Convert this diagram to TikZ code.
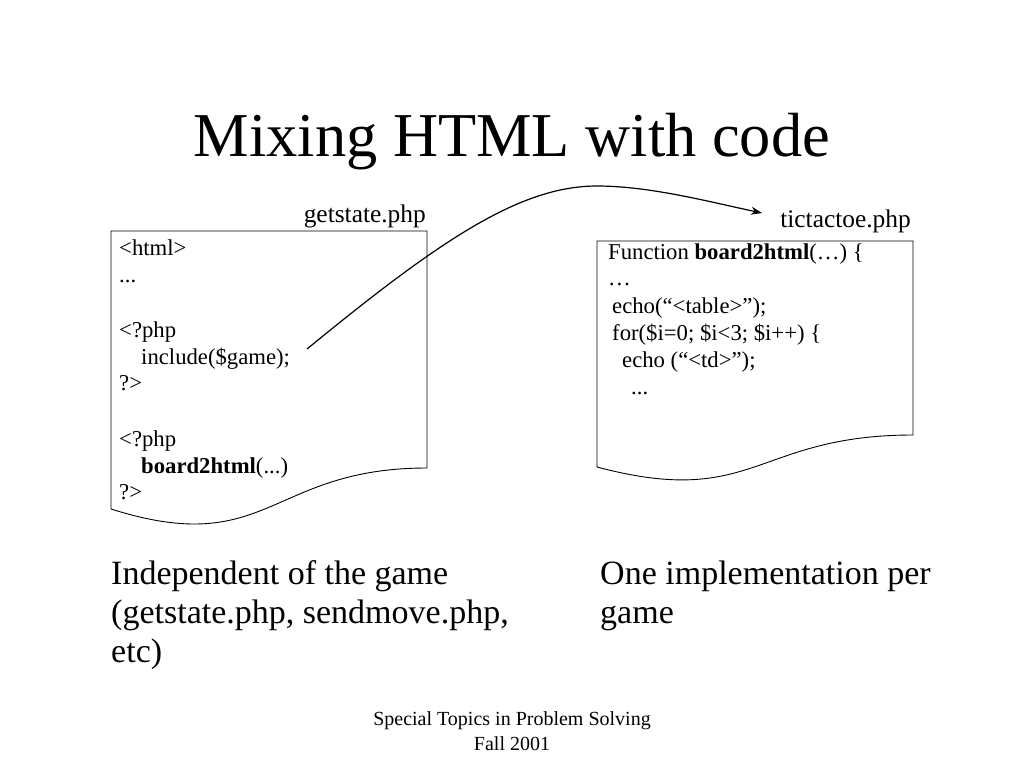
\documentclass[tikz,border=0pt]{standalone}
\usepackage{fontspec}
\setmainfont{Liberation Serif}
\usetikzlibrary{arrows.meta}
\tikzset{
  doc/.style={draw=black, line width=0.9pt, fill=white},
  code/.style={anchor=base west, inner sep=0pt, font=\fontsize{22.7}{27}\selectfont},
  filelabel/.style={anchor=base east, inner sep=0pt, font=\fontsize{25.4}{29}\selectfont},
  captext/.style={anchor=base west, inner sep=0pt, font=\fontsize{34}{39}\selectfont},
  foottext/.style={anchor=base, inner sep=0pt, font=\fontsize{20}{25}\selectfont},
  link/.style={draw=black, line width=1.2pt, -{Stealth[length=11pt,width=8pt]}}
}
\begin{document}
\begin{tikzpicture}[x=1pt,y=-1pt]
\useasboundingbox (0,0) rectangle (1024,768);
\fill[white] (0,0) rectangle (1024,768);

% title
\node[anchor=base, inner sep=0pt, font=\fontsize{62.4}{70}\selectfont] (title) at (512,156) {Mixing HTML with code};

% left document
\coordinate (ltl) at (111,231);
\coordinate (ltr) at (427,231);
\coordinate (lbr) at (427,468);
\coordinate (lbl) at (111,509);
\path[doc] (ltl) -- (ltr) -- (lbr) .. controls (269,468) and (269,559) .. (lbl) -- cycle;
\node[filelabel] (getstate) at (426,222) {getstate.php};

\node[code] (a1) at (119,255) {<html>};
\node[code] (a2) at (119,282) {...};
\node[code] (a4) at (119,337) {<?php};
\node[code] (a5) at (141,364) {include(\$game);};
\node[code] (a6) at (119,390) {?>};
\node[code] (a8) at (119,446) {<?php};
\node[code] (a9) at (141,473) {\textbf{board2html}(...)};
\node[code] (a10) at (119,499) {?>};

% right document
\coordinate (rtl) at (597,241);
\coordinate (rtr) at (913,241);
\coordinate (rbr) at (913,435);
\coordinate (rbl) at (597,467);
\path[doc] (rtl) -- (rtr) -- (rbr) .. controls (755,435) and (755,509) .. (rbl) -- cycle;
\node[filelabel] (tictactoe) at (911,227) {tictactoe.php};

\node[code] (b1) at (608,259.5) {Function \textbf{board2html}(…) \{};
\node[code] (b2) at (608,285.5) {…};
\node[code] (b3) at (612,313.5) {echo(“<table>”);};
\node[code] (b4) at (612,340.5) {for(\$i=0; \$i<3; \$i++) \{};
\node[code] (b5) at (622,367.5) {echo (“<td>”);};
\node[code] (b6) at (631,394.5) {...};

% connector
\coordinate (from) at (307,349);
\coordinate (peak) at (597,186);
\coordinate (to) at (762,213);
\draw[link] (from) .. controls (440,240) and (520,186) .. (peak) .. controls (650,186) and (710,202) .. (to);

% captions
\node[captext] (c1) at (111,584) {Independent of the game};
\node[captext] (c2) at (111,623) {(getstate.php, sendmove.php,};
\node[captext] (c3) at (111,662) {etc)};
\node[captext] (d1) at (600,584) {One implementation per};
\node[captext] (d2) at (600,623) {game};

% footer
\node[foottext] (f1) at (512,725) {Special Topics in Problem Solving};
\node[foottext] (f2) at (512,750) {Fall 2001};
\end{tikzpicture}
\end{document}
